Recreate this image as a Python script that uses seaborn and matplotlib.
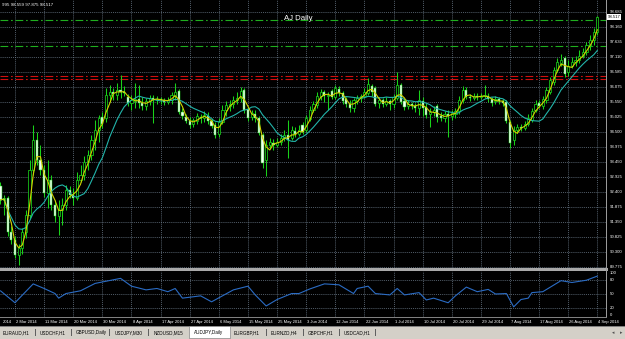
import numpy as np
import pandas as pd
import matplotlib
matplotlib.use("Agg")
import matplotlib.pyplot as plt
import matplotlib.transforms as mtransforms
from matplotlib.patches import Rectangle
import seaborn as sns

# ---------------- data ----------------
open_ = [92.62,92.13,92.20,91.01,90.73,90.21,90.45,91.01,91.61,93.18,
         94.22,93.52,93.18,92.37,92.83,91.95,91.57,91.78,91.95,92.48,
         92.30,92.20,92.83,93.00,93.45,93.70,94.22,94.57,95.02,94.99,
         95.79,95.90,95.79,95.97,95.90,95.72,95.51,95.58,95.65,95.51,
         95.41,95.58,95.69,95.62,95.65,95.62,95.55,95.62,95.76,95.93,
         95.20,95.02,94.89,94.78,94.89,95.02,94.99,95.06,94.89,94.75,
         94.43,94.85,95.27,95.41,95.48,95.62,95.69,95.97,95.30,95.02,
         95.13,94.99,94.40,93.52,94.05,94.12,94.05,94.15,94.29,94.40,
         94.29,94.54,94.43,94.75,94.57,94.96,95.27,95.44,95.76,95.90,
         95.76,95.93,95.72,96.00,95.86,95.65,95.48,95.34,95.58,95.69,
         95.76,95.86,96.11,96.04,95.51,95.62,95.48,95.58,95.48,95.69,
         96.14,95.58,95.41,95.48,95.41,95.34,95.58,95.37,95.13,95.20,
         95.41,95.06,94.99,95.13,95.06,95.13,95.23,95.62,95.97,95.72,
         95.69,95.76,95.72,95.76,95.76,95.65,95.58,95.65,95.58,95.55,
         94.85,94.22,94.57,94.68,94.64,94.78,94.92,95.27,95.51,95.41,
         95.62,95.90,96.25,96.66,96.91,97.08,96.60,96.80,96.94,97.01,
         97.15,97.29,97.50,97.71,97.995]
high = [92.76,92.30,92.27,91.22,90.87,90.59,91.15,91.78,93.52,94.75,
        94.50,94.05,93.35,93.52,93.00,92.13,92.13,92.20,92.65,92.62,
        92.55,93.11,93.35,93.66,93.87,94.40,94.92,95.09,95.20,96.04,
        96.14,96.04,96.21,96.49,96.11,95.83,95.79,96.21,96.14,95.72,
        95.69,95.79,95.79,95.76,95.72,95.69,95.72,95.90,96.21,96.00,
        95.34,95.13,95.02,94.99,95.16,95.13,95.23,95.20,94.99,94.85,
        94.99,95.44,95.58,95.62,95.76,95.90,96.07,96.04,95.41,95.27,
        95.27,95.06,94.47,94.22,94.29,94.26,94.29,94.43,94.57,94.92,
        94.71,94.68,94.75,94.85,95.09,95.41,95.58,95.90,96.00,95.97,
        95.90,96.00,96.14,96.11,95.93,95.72,95.62,95.69,95.79,95.83,
        96.04,96.39,96.18,96.11,95.72,95.69,95.72,95.65,95.83,96.60,
        96.21,95.69,95.62,95.55,95.51,95.97,95.72,95.51,95.34,95.41,
        95.48,95.20,95.23,95.27,95.27,95.34,95.76,96.11,96.07,95.83,
        95.86,95.86,95.86,96.14,95.86,95.72,95.76,95.72,95.65,95.62,
        94.92,94.71,94.78,94.78,94.89,95.13,95.34,95.62,95.62,95.76,
        96.07,96.42,96.77,97.08,97.22,97.15,97.01,97.12,97.15,97.36,
        97.43,97.64,97.89,98.13,98.559]
low = [91.99,91.61,90.87,90.59,90.11,89.86,90.24,90.80,91.50,93.00,
       93.35,93.00,92.23,91.85,91.78,91.36,90.91,91.26,91.78,92.20,
       91.95,92.13,92.76,92.83,93.18,93.52,93.87,94.15,94.64,94.85,
       95.55,95.62,95.62,95.69,95.76,95.41,95.27,95.34,95.34,95.27,
       95.27,95.44,94.82,95.48,95.48,95.44,95.48,95.48,95.62,95.13,
       94.96,94.82,94.64,94.68,94.78,94.82,94.85,94.78,94.64,94.29,
       94.33,94.78,95.06,95.23,95.34,95.48,95.55,95.16,94.89,94.92,
       94.85,94.40,93.25,92.97,93.94,93.87,93.98,94.05,94.19,93.59,
       94.22,94.33,94.36,94.43,94.50,94.89,95.20,95.34,95.62,95.55,
       95.27,95.65,95.65,95.76,95.48,95.37,95.20,95.20,95.48,95.55,
       95.69,95.79,95.76,95.41,95.34,95.37,95.41,95.27,95.34,95.62,
       95.48,95.27,95.30,95.30,95.20,95.09,95.06,94.99,94.68,95.06,
       94.85,94.89,94.85,94.33,94.92,94.99,95.13,95.51,95.65,95.58,
       95.62,95.62,95.65,95.69,95.55,95.41,95.48,95.48,95.41,94.82,
       93.94,94.05,94.47,94.54,94.57,94.71,94.85,95.20,95.34,95.30,
       95.51,95.83,96.14,96.60,96.80,96.42,96.46,96.73,96.80,96.91,
       97.08,97.19,97.36,97.54,97.875]
close = [92.13,92.20,91.01,90.73,90.21,90.45,91.01,91.61,93.18,94.22,
         93.52,93.18,92.37,92.83,91.95,91.57,91.78,91.95,92.48,92.30,
         92.20,92.83,93.00,93.45,93.70,94.22,94.57,94.99,94.78,95.79,
         95.90,95.83,95.97,95.90,95.86,95.51,95.62,95.65,95.51,95.41,
         95.58,95.69,95.62,95.65,95.62,95.55,95.62,95.79,95.90,95.20,
         95.06,94.89,94.75,94.92,95.06,94.99,95.09,94.89,94.71,94.40,
         94.85,95.27,95.44,95.48,95.62,95.69,95.93,95.27,94.99,95.16,
         94.99,94.47,93.42,94.05,94.15,94.05,94.15,94.29,94.40,94.22,
         94.57,94.43,94.57,94.50,94.99,95.27,95.48,95.76,95.90,95.76,
         95.79,95.72,96.04,95.86,95.58,95.48,95.34,95.62,95.69,95.76,
         95.90,96.18,95.90,95.48,95.62,95.48,95.58,95.48,95.72,96.14,
         95.55,95.37,95.48,95.41,95.34,95.62,95.34,95.09,95.20,95.27,
         95.02,94.99,95.13,95.06,95.16,95.23,95.62,95.97,95.72,95.69,
         95.76,95.72,95.76,95.79,95.65,95.51,95.65,95.58,95.51,94.89,
         94.12,94.57,94.68,94.64,94.78,94.99,95.23,95.48,95.41,95.65,
         95.97,96.32,96.66,96.94,97.01,96.53,96.80,96.94,97.01,97.15,
         97.29,97.54,97.71,97.99,98.517]

# oscillator (sub-window), read at bar indices
osc_bar = [0,4,9,12,15,16,18,22,26,33,36,40,43,46,48,50,55,58,64,68,
           70,73,76,80,82,85,89,93,97,98,101,103,107,109,111,115,117,119,123,125,
           128,131,134,136,139,141,143,145,146,149,154,157,161,164]
osc_val = [57,31,72,62,51,41,51,57,73,84,67,59,62,55,62,41,46,33,59,67,
           48,24,38,51,51,61,72,70,51,62,67,51,48,62,48,53,37,41,31,46,
           65,55,60,50,51,22,38,41,53,55,79,75,80,89]

green_levels = [98.41, 97.51]
red_levels = [96.46, 96.36]

price_ticks = [98.685, 98.160, 97.635, 97.110, 96.585, 96.075, 95.550, 95.025,
               94.500, 93.975, 93.450, 92.925, 92.400, 91.875, 91.350, 90.825,
               90.300, 89.775]
osc_ticks = [100, 80, 50, 20, 0]
osc_grid = [80, 50, 20]

# first label is only partly visible at the left edge ("2014")
date_labels = ["2014", "2 Mar 2014", "11 Mar 2014", "20 Mar 2014", "30 Mar 2014",
               "8 Apr 2014", "17 Apr 2014", "27 Apr 2014", "6 May 2014", "15 May 2014",
               "25 May 2014", "3 Jun 2014", "12 Jun 2014", "22 Jun 2014", "1 Jul 2014",
               "10 Jul 2014", "20 Jul 2014", "29 Jul 2014", "7 Aug 2014", "17 Aug 2014",
               "26 Aug 2014", "4 Sep 2014"]
date_bar = [-4, 4, 12, 20, 28, 36, 44, 52, 60, 68, 76, 84, 92, 100, 108,
            116, 124, 132, 140, 148, 156, 164]

tabs = ["EURAUD,H1", "USDCHF,H1", "GBPUSD,Daily", "USDJPY,M30", "NZDUSD,M15",
        "AUDJPY,Daily", "EURGBP,H1", "EURNZD,H4", "GBPCHF,H1", "USDCAD,H1"]
active_tab = "AUDJPY,Daily"
title = "AJ Daily"

# ---------------- style ----------------
sns.set_style("dark")
plt.rcParams["font.family"] = ["Liberation Sans", "DejaVu Sans"]
plt.rcParams["axes.edgecolor"] = "black"

GREEN = "#19d219"
YELLOW = "#d2d200"
CYAN = "#22b4aa"
BLUE = "#2b6cc4"
GRID = "#6f7f8f"
LVL_GREEN = "#1fae1f"
LVL_RED = "#d01010"

W, H = 625, 339
def px_rect(x0, y0, x1, y1):
    return [x0 / W, 1 - y1 / H, (x1 - x0) / W, (y1 - y0) / H]

fig = plt.figure(figsize=(W / 100, H / 100), dpi=100, facecolor="black")

X0, DX = 0.44, 3.64
xlim = (-X0 / DX, (606 - X0) / DX)

o = np.array(open_); h = np.array(high); l = np.array(low); c = np.array(close)
n = len(c)
x = np.arange(n)
df = pd.DataFrame({"bar": x, "close": c})
df["ma_fast"] = df["close"].rolling(3, min_periods=1).mean()
df["ma_slow"] = df["close"].rolling(10, min_periods=1).mean()

# ---------------- main window ----------------
ax = fig.add_axes(px_rect(0, 0, 606, 268))
ax.set_facecolor("black")
ax.set_xlim(*xlim)
ax.set_ylim(89.756, 99.107)
for s in ax.spines.values():
    s.set_visible(False)
ax.set_xticks([]); ax.set_yticks([])

for p in price_ticks:
    ax.axhline(p, color=GRID, lw=0.5, ls=(0, (1.5, 1.5)), zorder=0)
for b in date_bar:
    ax.axvline(b, color=GRID, lw=0.5, ls=(0, (1.5, 1.5)), zorder=0)

for lv in green_levels:
    ax.axhline(lv, color=LVL_GREEN, lw=0.8, ls=(0, (7, 2.5, 1.5, 2.5)), zorder=1)
for lv in red_levels:
    ax.axhline(lv, color=LVL_RED, lw=0.8, ls=(0, (7, 2.5, 1.5, 2.5)), zorder=1)

up = c >= o
ax.vlines(x, l, h, color=GREEN, lw=0.75, zorder=2)
ax.bar(x[up], np.maximum(c - o, 0.01)[up], bottom=o[up], width=0.6,
       color="black", edgecolor=GREEN, lw=0.55, zorder=3)
ax.bar(x[~up], (o - c)[~up], bottom=c[~up], width=0.6,
       color="#f4fff4", edgecolor=GREEN, lw=0.35, zorder=3)

sns.lineplot(data=df, x="bar", y="ma_slow", ax=ax, color=CYAN, lw=0.8, zorder=4)
sns.lineplot(data=df, x="bar", y="ma_fast", ax=ax, color=YELLOW, lw=0.8, zorder=5)
ax.set_xlabel(""); ax.set_ylabel("")
ax.set_xlim(*xlim)

tr_y = mtransforms.blended_transform_factory(ax.transAxes, ax.transData)
for p in price_ticks:
    ax.text(1 + 4 / 606, p, f"{p:.3f}", transform=tr_y, color="white",
            fontsize=3.1, ha="left", va="center", clip_on=False)
ax.text(1 + 1.5 / 606, c[-1], f"{c[-1]:.3f}", transform=tr_y, color="black",
        fontsize=3.1, ha="left", va="center", clip_on=False, zorder=10,
        bbox=dict(boxstyle="square,pad=0.25", fc="white", ec="white", lw=0))

info = f"{open_[-1]:.3f}"[-3:] + f" {high[-1]:.3f} {low[-1]:.3f} {close[-1]:.3f}"
ax.text(2 / 606, 1 - 5.5 / 268, info, transform=ax.transAxes, color="white",
        fontsize=3.2, ha="left", va="center")
ax.text(298 / 606, 1 - 18 / 268, title, transform=ax.transAxes, color="white",
        fontsize=5.6, ha="center", va="center")

# ---------------- oscillator window ----------------
ax2 = fig.add_axes(px_rect(0, 271, 606, 317))
ax2.set_facecolor("black")
ax2.set_xlim(*xlim)
ax2.set_ylim(0, 100)
for s in ax2.spines.values():
    s.set_visible(False)
ax2.set_xticks([]); ax2.set_yticks([])
for g in osc_grid:
    ax2.axhline(g, color=GRID, lw=0.5, ls=(0, (1.5, 1.5)), zorder=0)
for b in date_bar:
    ax2.axvline(b, color=GRID, lw=0.5, ls=(0, (1.5, 1.5)), zorder=0)
sns.lineplot(x=osc_bar, y=osc_val, ax=ax2, color=BLUE, lw=0.8)
ax2.set_xlabel(""); ax2.set_ylabel("")
ax2.set_xlim(*xlim); ax2.set_ylim(0, 100)

tr_y2 = mtransforms.blended_transform_factory(ax2.transAxes, ax2.transData)
for t in osc_ticks:
    va = "top" if t == max(osc_ticks) else ("bottom" if t == min(osc_ticks) else "center")
    ax2.text(1 + 4 / 606, t, str(t), transform=tr_y2, color="white",
             fontsize=3.1, ha="left", va=va, clip_on=False)

# separators / borders
fig.add_artist(Rectangle((0, 1 - 271 / H), 608 / W, 2.6 / H, transform=fig.transFigure,
                         color="#a9a9a9", lw=0))
fig.add_artist(Rectangle((606 / W, 1 - 318 / H), 1.3 / W, 318 / H, transform=fig.transFigure,
                         color="#9a9a9a", lw=0))
fig.add_artist(Rectangle((0, 1 - 318 / H), 607 / W, 1.0 / H, transform=fig.transFigure,
                         color="#808080", lw=0))

# date labels
tr_d = mtransforms.blended_transform_factory(ax2.transData, fig.transFigure)
for b, lab in zip(date_bar, date_labels):
    xb = max(b, xlim[0] + 0.5)
    ax2.text(xb + 0.3, 1 - 322 / H, lab, transform=tr_d, color="white", fontsize=3.0,
             ha="left", va="center", clip_on=False)

# tab bar
fig.add_artist(Rectangle((0, 0), 1, 13 / H, transform=fig.transFigure,
                         color="#d4d0c8", lw=0))
fig.add_artist(Rectangle((0, 13 / H - 0.8 / H), 1, 0.8 / H, transform=fig.transFigure,
                         color="#808080", lw=0))
tab_x = [3, 40, 76, 115, 154, 194, 234, 271, 308, 344]
sep_x = [35, 71, 109, 148, 187, 229, 266, 303, 339, 375]
for tx, name in zip(tab_x, tabs):
    if name == active_tab:
        fig.add_artist(Rectangle(((tx - 5) / W, 1.5 / H), 41 / W, 11.5 / H,
                                 transform=fig.transFigure, fc="white", ec="#707070", lw=0.4))
    fig.text(tx / W, 1 - 332.5 / H, name, color="black", fontsize=3.3, ha="left", va="center")
for sx in sep_x:
    if sx in (187, 229):
        continue
    fig.add_artist(Rectangle((sx / W, 3 / H), 0.8 / W, 7 / H, transform=fig.transFigure,
                             color="#606060", lw=0))
fig.text(613 / W, 1 - 332.5 / H, "\u25C2", color="#505050", fontsize=3.5,
         ha="center", va="center", family=["DejaVu Sans"])
fig.text(621 / W, 1 - 332.5 / H, "\u25B8", color="#505050", fontsize=3.5,
         ha="center", va="center", family=["DejaVu Sans"])

fig.savefig("out.png", dpi=100, facecolor="black")
